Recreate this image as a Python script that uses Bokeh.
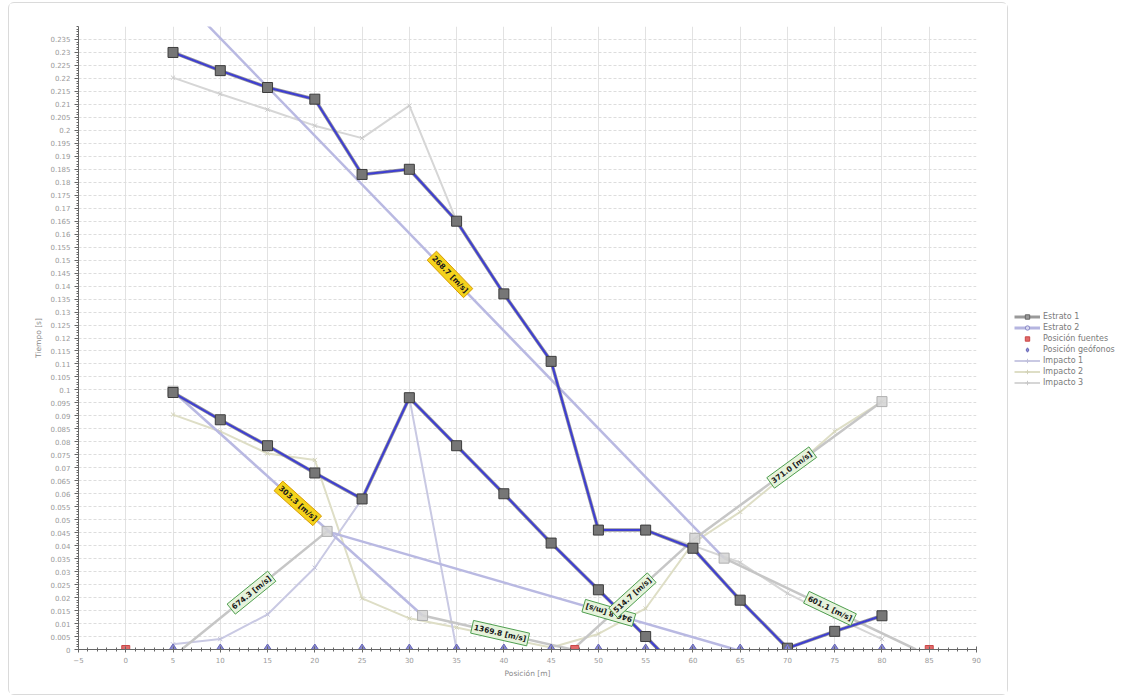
import math
from bokeh.plotting import figure
from bokeh.models import FixedTicker, NumeralTickFormatter, Label, Legend, LegendItem, Range1d
from bokeh.layouts import row
from bokeh.embed import file_html
from bokeh.resources import INLINE

# ---------------- data ----------------
geofonos_x = [5, 10, 15, 20, 25, 30, 35, 40, 45, 50, 55, 60, 65, 70, 75, 80]
fuentes_x = [0, 47.5, 85]

posiciones = [5, 10, 15, 20, 25, 30, 35, 40, 45, 50, 55, 60, 65, 70, 75, 80]
estrato_sup = [0.230, 0.223, 0.2165, 0.212, 0.183, 0.185, 0.165, 0.137, 0.111,
               0.046, 0.046, 0.039, 0.019, 0.0005, 0.007, 0.013]
estrato_inf_x = [5, 10, 15, 20, 25, 30, 35, 40, 45, 50, 55, 60]
estrato_inf = [0.099, 0.0885, 0.0785, 0.068, 0.058, 0.097, 0.0785, 0.060, 0.041,
               0.023, 0.005, -0.0135]

impacto1_x = [5, 10, 15, 20, 25, 30, 35]
impacto1_y = [0.002, 0.004, 0.0135, 0.0315, 0.058, 0.097, 0.0]
impacto2_y = [0.0905, 0.084, 0.0755, 0.073, 0.0197, 0.012, 0.0085, 0.0045, 0.0008,
              0.006, 0.0158, 0.041, 0.053, 0.068, 0.084, 0.0955]
impacto3_y = [0.2203, 0.214, 0.208, 0.2018, 0.197, 0.2095, 0.165, 0.137, 0.111,
              0.046, 0.046, 0.040, 0.0335, 0.0216, 0.0125, 0.004]

# fitted segments (Estrato 2: purple, Estrato 1: gray)
morado_x0 = [5, 5, 21.3]
morado_y0 = [0.2543, 0.0995, 0.0455]
morado_x1 = [63.3, 31.4, 64.5]
morado_y1 = [0.0352, 0.0131, 0.0]

gris_x0 = [5.9, 31.4, 47.3, 60.2, 63.3]
gris_y0 = [0.0, 0.0131, 0.0, 0.0428, 0.0352]
gris_x1 = [21.3, 47.2, 60.2, 80, 83.6]
gris_y1 = [0.0455, 0.0, 0.0428, 0.0955, 0.0]

nodos_x = [5, 21.3, 31.4, 60.2, 80, 63.3]
nodos_y = [0.0995, 0.0455, 0.0131, 0.0428, 0.0955, 0.0352]

# velocity labels
vel_text = ["268.7 [m/s]", "303.3 [m/s]", "674.3 [m/s]", "1369.8 [m/s]",
            "946.8 [m/s]", "514.7 [m/s]", "371.0 [m/s]", "601.1 [m/s]"]
vel_x = [34.3, 18.2, 13.3, 39.6, 51.1, 53.6, 70.45, 74.5]
vel_y = [0.1445, 0.0563, 0.0219, 0.0063, 0.0141, 0.0209, 0.0701, 0.0158]
vel_tipo = ["m", "m", "g", "g", "m", "g", "g", "g"]
vel_seg = [0, 1, 0, 1, 2, 2, 3, 4]
vel_invertido = [False, False, False, False, True, False, False, False]

xticks = list(range(-5, 95, 5))
yticks = [i / 200 for i in range(48)]

# ---------------- figure ----------------
W1, H = 1000, 693
ML, MR, MT, MB = 69, 33, 23, 47
XMIN, XMAX, YMIN, YMAX = -5, 90, 0, 0.24
FW, FH = W1 - ML - MR, H - MT - MB

FONT = "DejaVu Sans"

p = figure(width=W1, height=H, x_range=Range1d(XMIN, XMAX), y_range=Range1d(YMIN, YMAX),
           output_backend="svg", toolbar_location=None,
           min_border_left=ML, min_border_right=MR, min_border_top=MT, min_border_bottom=MB)
p.margin = (2, 0, 0, 8)
p.outline_line_color = None
p.background_fill_color = "white"
p.border_fill_color = "white"
p.styles = {"border": "1px solid #dadada", "border-radius": "6px"}

p.xaxis.ticker = FixedTicker(ticks=xticks, minor_ticks=list(range(-5, 91)))
p.yaxis.ticker = FixedTicker(ticks=yticks, minor_ticks=[i / 1000 for i in range(241)])
p.yaxis.formatter = NumeralTickFormatter(format="0.[000]")

for ax in (p.xaxis[0], p.yaxis[0]):
    ax.axis_line_color = "#666666"
    ax.major_tick_line_color = "#666666"
    ax.minor_tick_line_color = "#666666"
    ax.major_label_text_color = "#9a9a9a"
    ax.major_label_text_font = FONT
    ax.major_label_text_font_size = "7px"
    ax.axis_label_text_font = FONT
    ax.axis_label_text_font_size = "7.5px"
    ax.axis_label_text_color = "#8a8a8a"
    ax.axis_label_text_font_style = "normal"
p.xaxis.major_tick_in = 3
p.xaxis.major_tick_out = 3
p.xaxis.minor_tick_in = 2
p.xaxis.minor_tick_out = 2
p.yaxis.major_tick_in = 0
p.yaxis.major_tick_out = 4
p.yaxis.minor_tick_in = 0
p.yaxis.minor_tick_out = 2
p.xaxis.axis_label = "Posición [m]"
p.yaxis.axis_label = "Tiempo [s]"
p.xaxis.major_label_standoff = 4
p.xaxis.axis_label_standoff = 3
p.yaxis.major_label_standoff = 4
p.yaxis.axis_label_standoff = 4

p.xgrid.grid_line_color = "#e2e2e2"
p.ygrid.grid_line_color = "#dddddd"
p.ygrid.grid_line_dash = "3 2"

C_I1, C_I2, C_I3 = "#c9c9e3", "#dedec6", "#d6d6d6"
C_MOR, C_GRIS = "#b9b9e2", "#c6c6c6"

# Impactos
p.line(posiciones, impacto3_y, line_color=C_I3, line_width=2)
p.scatter(posiciones, impacto3_y, marker="x", size=6, line_color="#c8c8c8")
p.line(posiciones, impacto2_y, line_color=C_I2, line_width=2)
p.scatter(posiciones, impacto2_y, marker="x", size=6, line_color="#d2d2b8")
p.line(impacto1_x, impacto1_y, line_color=C_I1, line_width=2)
p.scatter(impacto1_x, impacto1_y, marker="x", size=6, line_color="#c0c0da")

# fitted lines
p.segment(morado_x0, morado_y0, morado_x1, morado_y1, line_color=C_MOR, line_width=2.5)
p.segment(gris_x0, gris_y0, gris_x1, gris_y1, line_color=C_GRIS, line_width=2.5)
p.scatter(nodos_x, nodos_y, marker="square", size=10, fill_color="#d4d4d4",
          fill_alpha=0.85, line_color="#b0b0b0")

# dark profile lines
for xs, ys in ((posiciones, estrato_sup), (estrato_inf_x, estrato_inf)):
    p.line(xs, ys, line_color="#80808c", line_width=3.5, line_alpha=0.85)
    p.line(xs, ys, line_color="#3e3ed2", line_width=2)
    p.scatter(xs, ys, marker="square", size=10, fill_color="#767676",
              line_color="#3c3c3c", line_width=1)

# geophones & sources
p.scatter(geofonos_x, [0] * len(geofonos_x), marker="diamond", size=11,
          fill_color="#8b8bd6", line_color="#6666b4")
p.scatter(fuentes_x, [0] * len(fuentes_x), marker="square", size=8,
          fill_color="#e26a6a", line_color="#c84848")

# labels
kx = FW / (XMAX - XMIN)
ky = FH / (YMAX - YMIN)
segs_m = list(zip(morado_x0, morado_y0, morado_x1, morado_y1))
segs_g = list(zip(gris_x0, gris_y0, gris_x1, gris_y1))
for t, x, y, tipo, si, inv in zip(vel_text, vel_x, vel_y, vel_tipo, vel_seg, vel_invertido):
    x0, y0, x1, y1 = segs_m[si] if tipo == "m" else segs_g[si]
    ang = math.atan2((y1 - y0) * ky, (x1 - x0) * kx)
    if inv:
        ang += math.pi
    yellow = (tipo == "m" and not inv)
    p.add_layout(Label(x=x, y=y, text=t, angle=ang, angle_units="rad",
                       text_align="center", text_baseline="middle",
                       text_font=FONT, text_font_size="7.5px", text_font_style="bold",
                       text_color="#1a1a1a",
                       background_fill_color="#f4d31c" if yellow else "#e6f3dc",
                       border_line_color="#d89a00" if yellow else "#4e9e4e",
                       padding=2))

# ---------------- legend figure ----------------
p2 = figure(width=113, height=682, output_backend="svg", toolbar_location=None,
            x_axis_location=None, y_axis_location=None, min_border=0,
            x_range=Range1d(0, 1), y_range=Range1d(0, 1))
p2.outline_line_color = None
p2.grid.visible = False
fx, fy = [10], [10]
r1l = p2.line(x=fx, y=fy, line_color="#9a9a9a", line_width=3)
r1m = p2.scatter(x=fx, y=fy, marker="square", size=7, fill_color="#9a9a9a", line_color="#666666")
r2l = p2.line(x=fx, y=fy, line_color="#b5b5e0", line_width=3)
r2m = p2.scatter(x=fx, y=fy, marker="circle", size=7, fill_color="#d8d8f0", line_color="#8c8cc8")
rf = p2.scatter(x=fx, y=fy, marker="square", size=7, fill_color="#e26a6a", line_color="#c84848")
rg = p2.scatter(x=fx, y=fy, marker="diamond", size=9, fill_color="#8b8bd6", line_color="#6666b4")
ri1l = p2.line(x=fx, y=fy, line_color=C_I1, line_width=2)
ri1m = p2.scatter(x=fx, y=fy, marker="cross", size=6, line_color="#c0c0da")
ri2l = p2.line(x=fx, y=fy, line_color=C_I2, line_width=2)
ri2m = p2.scatter(x=fx, y=fy, marker="cross", size=6, line_color="#d2d2b8")
ri3l = p2.line(x=fx, y=fy, line_color=C_I3, line_width=2)
ri3m = p2.scatter(x=fx, y=fy, marker="cross", size=6, line_color="#c8c8c8")

legend = Legend(items=[
    LegendItem(label="Estrato 1", renderers=[r1l, r1m]),
    LegendItem(label="Estrato 2", renderers=[r2l, r2m]),
    LegendItem(label="Posición fuentes", renderers=[rf]),
    LegendItem(label="Posición geófonos", renderers=[rg]),
    LegendItem(label="Impacto 1", renderers=[ri1l, ri1m]),
    LegendItem(label="Impacto 2", renderers=[ri2l, ri2m]),
    LegendItem(label="Impacto 3", renderers=[ri3l, ri3m]),
], location=(6, 247))
legend.border_line_color = None
legend.background_fill_alpha = 0
legend.padding = 0
legend.margin = 0
legend.spacing = 0
legend.label_height = 11
legend.glyph_height = 11
legend.glyph_width = 26
legend.label_standoff = 3
legend.label_text_font = FONT
legend.label_text_font_size = "8px"
legend.label_text_color = "#7a7a7a"
p2.add_layout(legend)

layout = row(p, p2)
open("out.html", "w").write(file_html(layout, INLINE))
